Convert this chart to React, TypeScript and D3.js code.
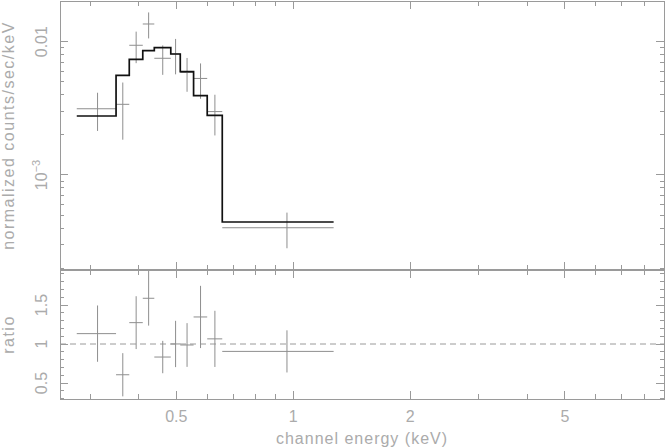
import React from 'react';
import * as d3 from 'd3';

// channel bins (keV)
const binLo = [0.2773, 0.35, 0.3785, 0.41, 0.439, 0.484, 0.512, 0.554, 0.6006, 0.6566];
const binHi = [0.35, 0.3785, 0.41, 0.439, 0.484, 0.512, 0.554, 0.6006, 0.6566, 1.27];
// folded data, normalized counts/sec/keV
const counts = [0.00314, 0.00339, 0.0094, 0.01358, 0.00751, 0.00809, 0.00588, 0.0053, 0.00299, 0.000402];
const sigma = [0.001, 0.00155, 0.0025, 0.003, 0.00187, 0.0024, 0.00167, 0.00157, 0.00101, 0.00012];
// folded model
const model = [0.002771, 0.005596, 0.007379, 0.00856, 0.009016, 0.008085, 0.005955, 0.003935, 0.002805, 0.000444];

const xMajor = [0.5, 1, 2, 5];
const xMinor = [0.3, 0.4, 0.6, 0.7, 0.8, 0.9, 3, 4, 6, 7, 8];
const yMajor = [0.001, 0.01];
const yMinor = [2e-4, 3e-4, 4e-4, 5e-4, 6e-4, 7e-4, 8e-4, 9e-4, 2e-3, 3e-3, 4e-3, 5e-3, 6e-3, 7e-3, 8e-3, 9e-3];
const rMajor = [0.5, 1, 1.5];
const rMinor = [0.3, 0.4, 0.6, 0.7, 0.8, 0.9, 1.1, 1.2, 1.3, 1.4, 1.6, 1.7, 1.8, 1.9];

const W = 665;
const H = 447;
const L = 60, R = 664, T = 1, MID = 270, B = 399;
const LINE = '#9a9a9a';
const TXT = '#ababab';
const FONT = '"Liberation Sans", Arial, sans-serif';

export default function App() {
  const x = d3.scaleLog().domain([0.2511, 8.99]).range([L, R]);
  const y = d3.scaleLog().domain([0.0202, 1.937e-4]).range([T, MID]);
  const r = d3.scaleLinear().domain([1.949, 0.295]).range([MID, B]);

  const steps: [number, number][] = [];
  model.forEach((m, i) => {
    steps.push([x(binLo[i]), y(m)]);
    steps.push([x(binHi[i]), y(m)]);
  });
  const stepPath = d3.line()(steps) || '';

  const xt = (v: number, len: number, key: string) => (
    <g key={key}>
      <line x1={x(v)} x2={x(v)} y1={T} y2={T + len} />
      <line x1={x(v)} x2={x(v)} y1={MID} y2={MID - len} />
      <line x1={x(v)} x2={x(v)} y1={MID} y2={MID + len} />
      <line x1={x(v)} x2={x(v)} y1={B} y2={B - len} />
    </g>
  );
  const yt = (py: number, len: number, key: string) => (
    <g key={key}>
      <line x1={L} x2={L + len} y1={py} y2={py} />
      <line x1={R} x2={R - len} y1={py} y2={py} />
    </g>
  );

  return (
    <div style={{ position: 'absolute', left: 0, top: 0 }}>
      <svg width={W} height={H} style={{ display: 'block', background: '#fff' }}>
        <g stroke={LINE} strokeWidth={1} fill="none" shapeRendering="crispEdges">
          <rect x={L} y={T} width={R - L} height={MID - T} />
          <rect x={L} y={MID} width={R - L} height={B - MID} />
          <line x1={L} x2={R} y1={MID - 1} y2={MID - 1} />
          {xMajor.map((v) => xt(v, 8, 'xM' + v))}
          {xMinor.map((v) => xt(v, 5, 'xm' + v))}
          {yMajor.map((v) => yt(y(v), 8, 'yM' + v))}
          {yMinor.map((v) => yt(y(v), 4, 'ym' + v))}
          {rMajor.map((v) => yt(r(v), 8, 'rM' + v))}
          {rMinor.map((v) => yt(r(v), 4, 'rm' + v))}
        </g>

        <line x1={L} x2={R} y1={r(1)} y2={r(1)} stroke={LINE} strokeWidth={1} strokeDasharray="6,4" />

        <g stroke="#8e8e8e" strokeWidth={1} fill="none">
          {counts.map((c, i) => {
            const cx = x((binLo[i] + binHi[i]) / 2);
            return (
              <g key={'d' + i}>
                <line x1={x(binLo[i])} x2={x(binHi[i])} y1={y(c)} y2={y(c)} />
                <line x1={cx} x2={cx} y1={y(c - sigma[i])} y2={y(c + sigma[i])} />
                <line x1={x(binLo[i])} x2={x(binHi[i])} y1={r(c / model[i])} y2={r(c / model[i])} />
                <line x1={cx} x2={cx} y1={r((c - sigma[i]) / model[i])} y2={r((c + sigma[i]) / model[i])} />
              </g>
            );
          })}
        </g>

        <path d={stepPath} fill="none" stroke="#111" strokeWidth={1.7} />

        <g fill={TXT} fontFamily={FONT} fontSize={16}>
          {xMajor.map((v) => (
            <text key={'xl' + v} x={x(v)} y={422} textAnchor="middle">{v}</text>
          ))}
          <text transform={`translate(47,${y(0.01)}) rotate(-90)`} textAnchor="middle">0.01</text>
          <text transform={`translate(47,${y(0.001)}) rotate(-90)`} textAnchor="middle">
            10<tspan fontSize={11} dy={-7}>−3</tspan>
          </text>
          {rMajor.map((v) => (
            <text key={'rl' + v} transform={`translate(47,${r(v)}) rotate(-90)`} textAnchor="middle">{v}</text>
          ))}
          <text x={(L + R) / 2} y={444} textAnchor="middle" letterSpacing={1}>channel energy (keV)</text>
          <text transform={`translate(14,${(T + MID) / 2}) rotate(-90)`} textAnchor="middle" letterSpacing={1.5}>
            normalized counts/sec/keV
          </text>
          <text transform={`translate(14,${(MID + B) / 2}) rotate(-90)`} textAnchor="middle" letterSpacing={1.5}>ratio</text>
        </g>
      </svg>
    </div>
  );
}
